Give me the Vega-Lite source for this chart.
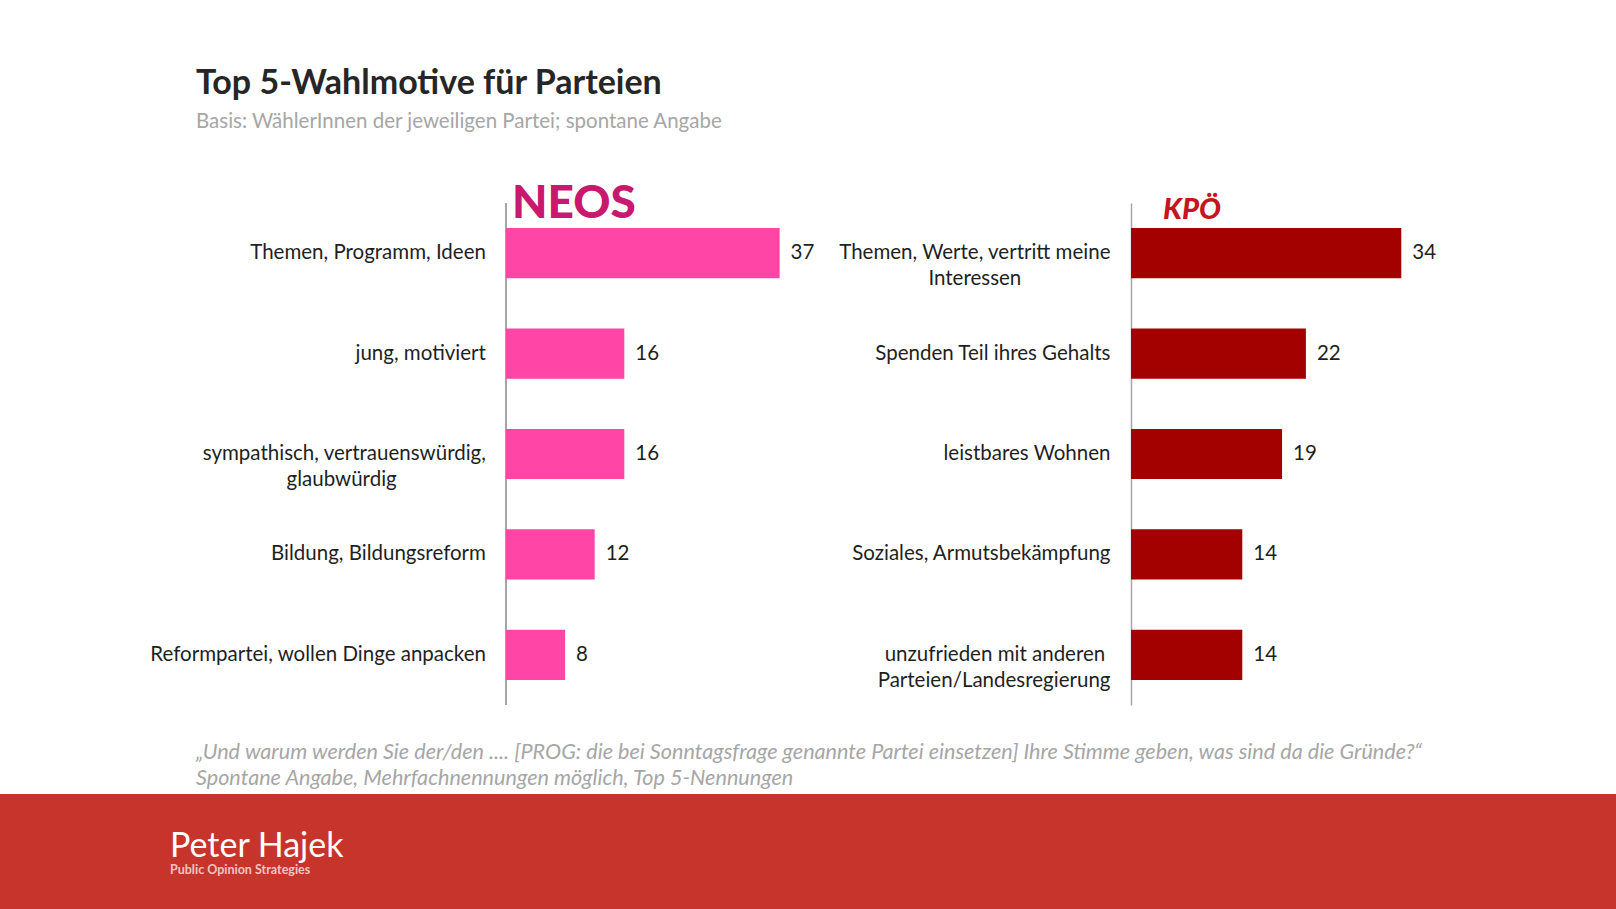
{
  "$schema": "https://vega.github.io/schema/vega-lite/v6.json",
  "background": "white",
  "padding": {"left": 0, "top": 66, "right": 0, "bottom": 0},
  "config": {
    "font": "Lato",
    "view": {"stroke": null}
  },
  "title": {
    "text": "Top 5-Wahlmotive für Parteien",
    "subtitle": "Basis: WählerInnen der jeweiligen Partei; spontane Angabe",
    "anchor": "start",
    "dx": 196,
    "font": "Lato",
    "fontSize": 34,
    "fontWeight": "bold",
    "color": "#262626",
    "subtitleFont": "Lato",
    "subtitleFontSize": 20.5,
    "subtitleColor": "#a6a6a6",
    "subtitlePadding": 11.5,
    "offset": 48
  },
  "concat": [
    {
      "hconcat": [
        {
          "width": 824,
          "height": 502,
          "title": {
            "text": "NEOS",
            "anchor": "start",
            "frame": "group",
            "font": "Lato",
            "fontSize": 46,
            "fontWeight": 900,
            "color": "#c8196e",
            "offset": -25.6,
            "dx": 512
          },
          "data": {
            "values": [
              {"motiv": "Themen, Programm, Ideen", "wert": 37},
              {"motiv": "jung, motiviert", "wert": 16},
              {"motiv": "sympathisch, vertrauenswürdig,|glaubwürdig\u00a0\u00a0\u00a0\u00a0\u00a0\u00a0\u00a0\u00a0\u00a0\u00a0\u00a0\u00a0\u00a0\u00a0\u00a0\u00a0\u00a0\u200b", "wert": 16},
              {"motiv": "Bildung, Bildungsreform", "wert": 12},
              {"motiv": "Reformpartei, wollen Dinge anpacken", "wert": 8}
            ]
          },
          "layer": [
            {
              "mark": {"type": "rule", "color": "#a6a6a6", "strokeWidth": 1.5},
              "encoding": {
                "x": {"datum": 0, "type": "quantitative", "scale": {"domain": [-68.4, 43], "nice": false}, "axis": null}
              }
            },
            {
              "mark": {"type": "bar", "color": "#ff45a6"},
              "encoding": {
                "y": {"field": "motiv", "type": "nominal", "sort": null, "scale": {"paddingInner": 0.5, "paddingOuter": 0.25}, "axis": null},
                "x": {"field": "wert", "type": "quantitative", "scale": {"domain": [-68.4, 43], "nice": false}, "axis": null}
              }
            },
            {
              "mark": {"type": "text", "align": "left", "baseline": "middle", "dx": 11, "font": "Lato", "fontSize": 20.5, "color": "#1f1f1f"},
              "encoding": {
                "y": {"field": "motiv", "type": "nominal", "sort": null, "axis": null},
                "x": {"field": "wert", "type": "quantitative", "axis": null},
                "text": {"field": "wert", "type": "quantitative"}
              }
            },
            {
              "mark": {"type": "text", "align": "right", "baseline": "middle", "dx": -20, "font": "Lato", "fontSize": 20.5, "color": "#1f1f1f", "lineBreak": "|", "lineHeight": 26},
              "encoding": {
                "y": {"field": "motiv", "type": "nominal", "sort": null, "axis": null},
                "x": {"datum": 0, "type": "quantitative", "axis": null},
                "text": {"field": "motiv", "type": "nominal"}
              }
            }
          ]
        },
        {
          "width": 318,
          "height": 502,
          "title": {
            "text": "KPÖ",
            "anchor": "start",
            "frame": "group",
            "font": "Lato",
            "fontSize": 29,
            "fontWeight": 900,
            "fontStyle": "italic",
            "color": "#c4161c",
            "offset": -21.7,
            "dx": 32
          },
          "data": {
            "values": [
              {"motiv": "Themen, Werte, vertritt meine|Interessen\u00a0\u00a0\u00a0\u00a0\u00a0\u00a0\u00a0\u00a0\u00a0\u00a0\u00a0\u00a0\u00a0\u00a0\u00a0\u00a0\u00a0\u200b", "wert": 34},
              {"motiv": "Spenden Teil ihres Gehalts", "wert": 22},
              {"motiv": "leistbares Wohnen", "wert": 19},
              {"motiv": "Soziales, Armutsbekämpfung", "wert": 14},
              {"motiv": "unzufrieden mit anderen\u00a0\u200b|Parteien/Landesregierung", "wert": 14}
            ]
          },
          "encoding": {
            "y": {
              "field": "motiv",
              "type": "nominal",
              "sort": null,
              "scale": {"paddingInner": 0.5, "paddingOuter": 0.25},
              "axis": {
                "title": null,
                "domain": true,
                "domainColor": "#a6a6a6",
                "domainWidth": 1.5,
                "ticks": false,
                "labelPadding": 21,
                "labelFont": "Lato",
                "labelFontSize": 20.5,
                "labelColor": "#1f1f1f",
                "labelLimit": 0,
                "labelLineHeight": 26,
                "labelExpr": "split(datum.label, '|')",
                "minExtent": 307
              }
            },
            "x": {
              "field": "wert",
              "type": "quantitative",
              "scale": {"domain": [0, 40]},
              "axis": null
            }
          },
          "layer": [
            {"mark": {"type": "bar", "color": "#a30000"}},
            {
              "mark": {"type": "text", "align": "left", "baseline": "middle", "dx": 11, "font": "Lato", "fontSize": 20.5, "color": "#1f1f1f"},
              "encoding": {"text": {"field": "wert", "type": "quantitative"}}
            }
          ]
        }
      ],
      "spacing": 0,
      "title": {
        "text": [
          "„Und warum werden Sie der/den .... [PROG: die bei Sonntagsfrage genannte Partei einsetzen] Ihre Stimme geben, was sind da die Gründe?“",
          "Spontane Angabe, Mehrfachnennungen möglich, Top 5-Nennungen"
        ],
        "orient": "bottom",
        "anchor": "start",
        "dx": 196,
        "font": "Lato",
        "fontSize": 21.6,
        "fontStyle": "italic",
        "fontWeight": "normal",
        "color": "#a6a6a6",
        "lineHeight": 26,
        "offset": 36.5
      }
    },
    {
      "width": 1616,
      "height": 130,
      "view": {"fill": "#c7342b", "stroke": null},
      "title": {
        "text": "Peter Hajek",
        "subtitle": "Public Opinion Strategies",
        "anchor": "start",
        "dx": 170,
        "offset": -82,
        "font": "Lato",
        "fontSize": 34,
        "fontWeight": "normal",
        "color": "white",
        "subtitleFont": "Lato",
        "subtitleFontSize": 12.5,
        "subtitleFontWeight": "bold",
        "subtitleColor": "#f2c4c0",
        "subtitlePadding": 0
      },
      "data": {"values": [{"k": 1}]},
      "mark": {"type": "point", "opacity": 0}
    }
  ],
  "columns": 1,
  "align": "none",
  "spacing": 4
}
